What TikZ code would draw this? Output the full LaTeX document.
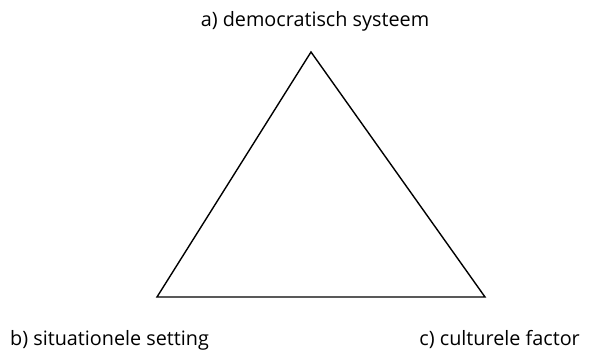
\documentclass[tikz,border=0pt]{standalone}
\usepackage{fontspec}
\setmainfont{Open Sans}
\begin{document}
\begin{tikzpicture}[x=1pt,y=1pt,
  lbl/.style={inner sep=0pt,font=\fontsize{19.8}{23}\selectfont},
  edge/.style={line width=1.4pt,line join=miter}]
\useasboundingbox (0,0) rectangle (591,355);
\coordinate (A) at (311,303);
\coordinate (B) at (157,58);
\coordinate (C) at (485,58);
\draw[edge] (A) -- (B) -- (C) -- cycle;
\node[lbl,anchor=base] (la) at (315,328) {a) democratisch systeem};
\node[lbl,anchor=base west] (lb) at (10,9) {b) situationele setting};
\node[lbl,anchor=base east] (lc) at (580,9) {c) culturele factor};
\end{tikzpicture}
\end{document}
